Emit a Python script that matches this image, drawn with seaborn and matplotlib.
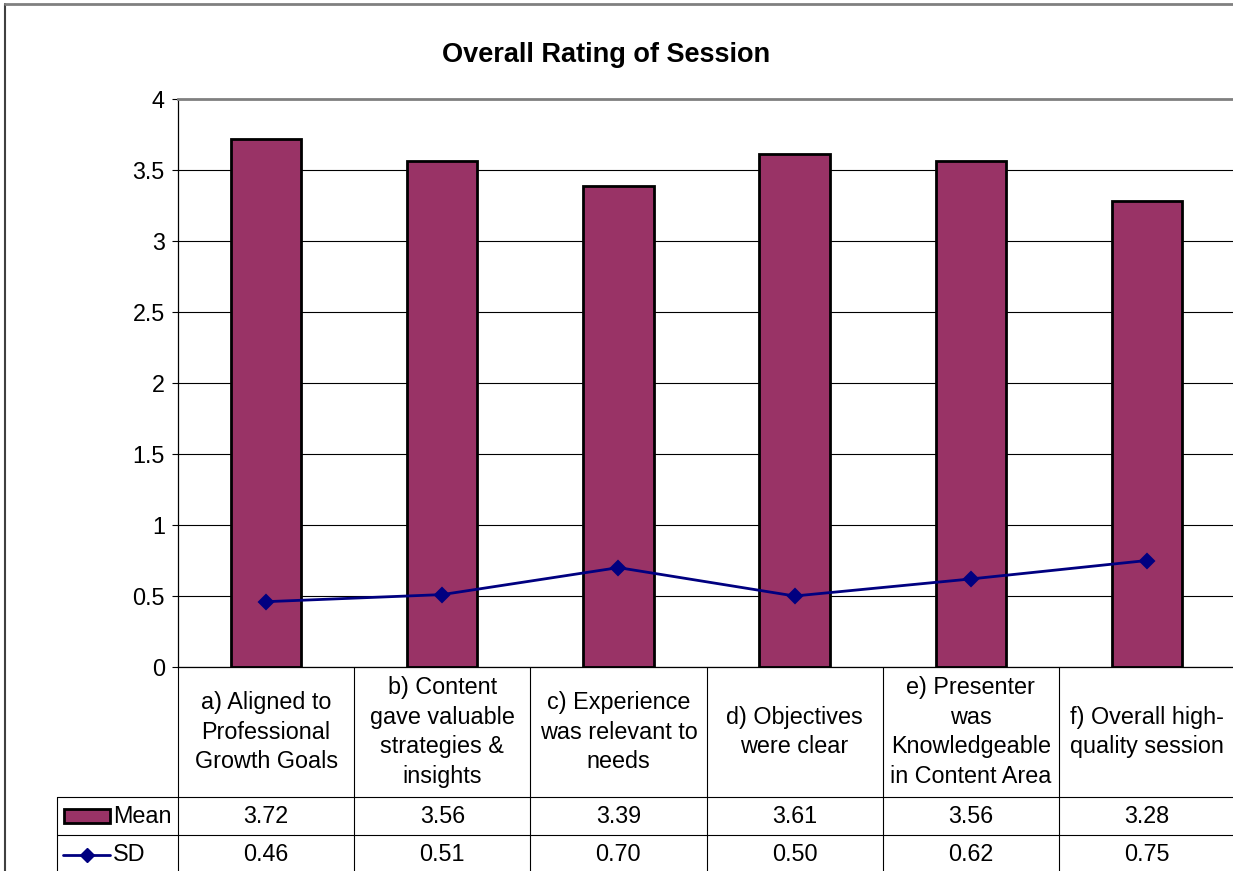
"""
Overall Rating of Session - Excel-style bar chart with a data table underneath.
Mean rating as bars, standard deviation as a line with diamond markers.
"""

import pandas as pd
import matplotlib
matplotlib.use("Agg")
import matplotlib.pyplot as plt
import seaborn as sns
from matplotlib.patches import Rectangle
from matplotlib.lines import Line2D

# ---------------------------------------------------------
# Data
# ---------------------------------------------------------
categories = [
    "a) Aligned to\nProfessional\nGrowth Goals",
    "b) Content\ngave valuable\nstrategies &\ninsights",
    "c) Experience\nwas relevant to\nneeds",
    "d) Objectives\nwere clear",
    "e) Presenter\nwas\nKnowledgeable\nin Content Area",
    "f) Overall high-\nquality session",
]
mean_vals = [3.72, 3.56, 3.39, 3.61, 3.56, 3.28]
sd_vals = [0.46, 0.51, 0.70, 0.50, 0.62, 0.75]
y_ticks = [0, 0.5, 1, 1.5, 2, 2.5, 3, 3.5, 4]
y_tick_labels = ["0", "0.5", "1", "1.5", "2", "2.5", "3", "3.5", "4"]
series_names = ["Mean", "SD"]

BAR_COLOR = "#993366"
LINE_COLOR = "#000080"
FS = 16.8

sns.set_style("white")
plt.rcParams["font.family"] = ["Liberation Sans", "DejaVu Sans"]
plt.rcParams["text.color"] = "black"
plt.rcParams["ytick.color"] = "black"
plt.rcParams["xtick.color"] = "black"

# ---------------------------------------------------------
# Figure + plot area (positions in reference pixels)
# ---------------------------------------------------------
W, H = 1233, 871
fig = plt.figure(figsize=(W / 100, H / 100), dpi=100)


def fx(px):
    return px / W


def fy(py):
    return 1 - py / H


AX_L, AX_R, AX_T, AX_B = 178, 1235, 99, 667
ax = fig.add_axes([fx(AX_L), fy(AX_B), (AX_R - AX_L) / W, (AX_B - AX_T) / H])

df = pd.DataFrame({"category": categories, "Mean": mean_vals, "SD": sd_vals})

sns.barplot(data=df, x="category", y="Mean", color=BAR_COLOR, saturation=1,
            edgecolor="black", linewidth=2, width=0.4, ax=ax)
sns.pointplot(data=df, x="category", y="SD", color=LINE_COLOR, markers="D",
              linestyles="-", markersize=7, linewidth=2, errorbar=None, ax=ax)

ax.set_xlim(-0.5, len(categories) - 0.5)
ax.set_ylim(0, 4)
ax.set_yticks(y_ticks)
ax.set_yticklabels(y_tick_labels, fontsize=FS)
ax.set_xticks([])
ax.set_xlabel("")
ax.set_ylabel("")
ax.tick_params(axis="y", which="major", direction="out", length=4.5,
               width=0.8, color="black", labelcolor="black", pad=5, left=True)
ax.yaxis.grid(True, color="black", linewidth=0.8)
ax.set_axisbelow(True)

ax.spines["right"].set_visible(False)
ax.spines["left"].set_color("black")
ax.spines["left"].set_linewidth(0.9)
ax.spines["bottom"].set_color("black")
ax.spines["bottom"].set_linewidth(0.9)
ax.spines["top"].set_color("#808080")
ax.spines["top"].set_linewidth(2)

fig.text(fx(606), fy(55), "Overall Rating of Session", ha="center", va="center",
         fontsize=19.5, fontweight="bold")

# ---------------------------------------------------------
# Data table under the plot
# ---------------------------------------------------------
trans = ax.get_xaxis_transform()
span = AX_B - AX_T


def ay(py):
    return (AX_B - py) / span


ROW1, ROW2, BOTTOM = 797, 835, 880
x_leg = (57 - AX_L) / ((AX_R - AX_L) / len(categories)) - 0.5

# vertical column lines
for i in range(len(categories) + 1):
    ax.plot([i - 0.5, i - 0.5], [0, ay(BOTTOM)], transform=trans,
            color="black", lw=0.8, clip_on=False)
ax.plot([x_leg, x_leg], [ay(ROW1), ay(BOTTOM)], transform=trans,
        color="black", lw=0.8, clip_on=False)
# horizontal row lines
for py in [ROW1, ROW2]:
    ax.plot([x_leg, len(categories)], [ay(py), ay(py)], transform=trans,
            color="black", lw=0.8, clip_on=False)

# header labels + values
for i, cat in enumerate(categories):
    ax.text(i, ay((AX_B + ROW1) / 2), cat, transform=trans, ha="center",
            va="center", fontsize=FS, linespacing=1.37, clip_on=False)
    ax.text(i, ay((ROW1 + ROW2) / 2), f"{mean_vals[i]:.2f}", transform=trans,
            ha="center", va="center", fontsize=FS, clip_on=False)
    ax.text(i, ay(854), f"{sd_vals[i]:.2f}", transform=trans,
            ha="center", va="center", fontsize=FS, clip_on=False)

# legend keys in the first column
fig.add_artist(Rectangle((fx(64), fy(823)), fx(110) - fx(64), (823 - 809) / H,
                         transform=fig.transFigure, facecolor=BAR_COLOR,
                         edgecolor="black", linewidth=2))
fig.text(fx(113), fy(816), series_names[0], ha="left", va="center", fontsize=FS)
fig.add_artist(Line2D([fx(63), fx(110)], [fy(855), fy(855)], color=LINE_COLOR,
                      lw=2, transform=fig.transFigure))
fig.add_artist(Line2D([fx(87)], [fy(855)], color=LINE_COLOR, marker="D",
                      markersize=7, transform=fig.transFigure))
fig.text(fx(113), fy(854), series_names[1], ha="left", va="center", fontsize=FS)

# chart area border
fig.add_artist(Line2D([fx(5), fx(5)], [fy(4), 0], color="#404040", lw=1.5,
                      transform=fig.transFigure))
fig.add_artist(Line2D([fx(5), 1], [fy(4), fy(4)], color="#808080", lw=2,
                      transform=fig.transFigure))

fig.savefig("out.png", dpi=100)
plt.close(fig)
